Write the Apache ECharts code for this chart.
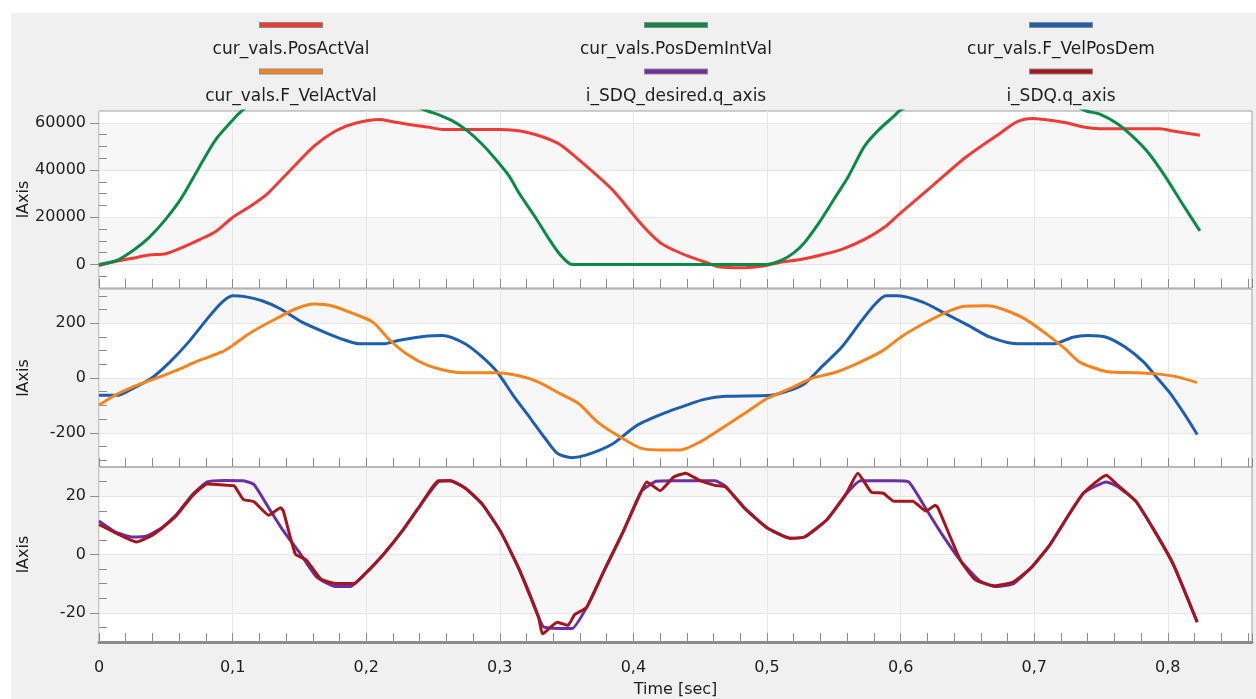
<!DOCTYPE html>
<html><head><meta charset="utf-8">
<script src="https://cdn.jsdelivr.net/npm/echarts@6/dist/echarts.min.js"></script>
<style>html,body{margin:0;padding:0;background:#fff}#c{width:1256px;height:699px}</style>
</head><body><div id="c"></div>
<script>
// ---------- DATA ----------
const seriesNames = ['cur_vals.PosActVal','cur_vals.PosDemIntVal','cur_vals.F_VelPosDem','cur_vals.F_VelActVal','i_SDQ_desired.q_axis','i_SDQ.q_axis'];

const posActT = [0,0.0135,0.025,0.0374,0.05,0.062,0.076,0.088,0.1,0.113,0.126,0.143,0.161,0.177,0.191,0.21,0.218,0.232,0.246,0.257,0.3,0.32,0.343,0.356,0.384,0.406,0.42,0.43,0.441,0.455,0.464,0.483,0.497,0.511,0.525,0.539,0.556,0.573,0.589,0.599,0.624,0.649,0.674,0.687,0.699,0.712,0.724,0.737,0.749,0.794,0.804,0.824];
const posActV = [-500,1400,2600,3970,4540,7080,10700,14200,19900,24500,29900,39800,50100,56500,59700,61400,60700,59300,58200,57200,57200,56000,51500,45900,31800,17000,9200,6100,3500,700,-1000,-1400,-700,1000,2100,3800,6400,10600,16200,21300,33400,45500,55400,60400,61800,61100,60000,58200,57500,57500,56500,54700];

const posDemT = [0,0.0135,0.026,0.0374,0.05,0.062,0.075,0.087,0.1,0.106,0.12,0.14,0.17,0.2,0.22,0.235,0.246,0.254,0.265,0.276,0.287,0.298,0.307,0.315,0.326,0.337,0.345,0.352,0.355,0.5,0.511,0.52,0.528,0.539,0.55,0.561,0.573,0.584,0.595,0.599,0.615,0.64,0.69,0.715,0.73,0.739,0.749,0.762,0.774,0.786,0.7985,0.811,0.824];
const posDemV = [0,1700,6100,11350,19200,28400,41200,52600,61100,64600,71000,75000,76000,75000,71500,67500,65000,63500,60700,56500,50800,43800,37400,29700,20500,10600,4200,400,0,0,1800,4900,9200,17700,27500,37400,50100,57200,62800,65000,70000,75000,76000,72000,67500,65000,63700,59700,54000,46900,36900,25600,14200];

const velDemT = [0,0.014,0.025,0.039,0.053,0.067,0.081,0.092,0.1,0.108,0.122,0.136,0.152,0.169,0.185,0.195,0.213,0.224,0.246,0.257,0.274,0.287,0.298,0.31,0.323,0.334,0.343,0.354,0.365,0.384,0.403,0.427,0.441,0.453,0.469,0.503,0.517,0.528,0.542,0.556,0.57,0.581,0.589,0.598,0.617,0.634,0.651,0.667,0.687,0.715,0.729,0.74,0.754,0.768,0.782,0.79,0.801,0.813,0.822];
const velDemV = [-63,-63,-39,-2,58,131,216,276,300,298,282,252,204,167,137,125,125,137,153,155,125,76,22,-63,-148,-221,-275,-291,-281,-242,-172,-121,-97,-78,-67,-63,-45,-21,46,113,204,270,300,300,276,234,191,149,125,125,149,155,149,113,58,12,-51,-136,-206];

const velActT = [0,0.012,0.025,0.042,0.058,0.075,0.092,0.1,0.114,0.13,0.147,0.161,0.174,0.191,0.205,0.218,0.232,0.246,0.263,0.274,0.296,0.315,0.329,0.345,0.359,0.373,0.39,0.406,0.423,0.435,0.45,0.466,0.483,0.5,0.517,0.533,0.55,0.567,0.587,0.6,0.617,0.634,0.648,0.665,0.676,0.693,0.709,0.723,0.734,0.754,0.776,0.79,0.807,0.822];
const velActV = [-99,-63,-33,-2,28,64,95,119,167,210,252,270,264,234,204,137,82,46,24,19,19,7,-15,-57,-93,-160,-215,-257,-263,-263,-233,-184,-130,-75,-39,-2,19,52,101,149,198,240,262,264,252,216,161,107,58,24,19,16,4,-17];

const sdqDesT = [0,0.012,0.025,0.036,0.047,0.058,0.07,0.081,0.094,0.108,0.116,0.127,0.138,0.15,0.163,0.177,0.188,0.199,0.213,0.227,0.241,0.254,0.263,0.274,0.287,0.301,0.315,0.329,0.333,0.354,0.365,0.378,0.392,0.406,0.417,0.43,0.461,0.469,0.483,0.5,0.517,0.528,0.545,0.559,0.57,0.595,0.606,0.62,0.631,0.645,0.659,0.67,0.684,0.698,0.712,0.726,0.737,0.754,0.762,0.776,0.79,0.804,0.822];
const sdqDesV = [11.5,7.8,6.0,6.4,9.2,13.7,20.6,24.9,25.4,25.3,24.0,16.0,8.1,0.7,-7.8,-11.0,-11.0,-6.7,0.1,8.1,17.2,24.9,25.3,22.8,17.2,7.5,-5.6,-21.5,-24.9,-25.4,-18.1,-5.6,7.5,21.7,25.1,25.3,25.3,23.4,16.0,9.2,5.6,6.0,12.0,20.6,25.3,25.3,24.9,14.9,6.9,-2.2,-9.0,-11.0,-10.1,-4.4,3.5,13.7,21.1,24.9,23.4,18.3,8.1,-3.3,-23.2];

const sdqT = [0,0.012,0.028,0.039,0.047,0.058,0.07,0.081,0.097,0.101,0.108,0.116,0.127,0.136,0.138,0.147,0.155,0.166,0.177,0.191,0.199,0.213,0.227,0.241,0.254,0.263,0.274,0.287,0.301,0.315,0.329,0.332,0.343,0.351,0.356,0.365,0.378,0.392,0.406,0.41,0.42,0.43,0.439,0.45,0.461,0.469,0.483,0.5,0.517,0.528,0.545,0.559,0.568,0.578,0.587,0.595,0.609,0.619,0.626,0.628,0.645,0.656,0.67,0.684,0.698,0.712,0.726,0.737,0.754,0.762,0.776,0.79,0.804,0.822];
const sdqV = [10.3,7.5,4.3,6.4,9.0,13.4,20.2,24.2,23.7,23.6,18.9,18.1,13.5,16.0,14.9,0.1,-1.8,-8.4,-9.9,-9.9,-6.7,0.1,8.1,17.2,25.3,25.3,22.8,17.2,7.5,-5.6,-21.5,-27.2,-23.2,-24.3,-20.6,-18.1,-5.6,7.5,21.7,24.9,21.9,26.5,27.9,25.3,23.7,23.1,16.0,9.2,5.6,6.0,12.0,20.6,27.9,21.4,21.0,18.3,18.3,14.9,16.9,16.0,-2.2,-8.7,-10.7,-9.5,-4.4,3.5,13.7,21.1,27.2,24.0,18.3,8.1,-3.3,-23.2];

// tick labels per panel
const panel1Labels = [0,20000,40000,60000];
const panel2Labels = [-200,0,200];
const panel3Labels = [-20,0,20];
const panel1Minor = [-5000,5000,10000,15000,25000,30000,35000,45000,50000,55000];
const panel2Minor = [-300,-250,-150,-100,-50,50,100,150,250,300];
const panel3Minor = [-25,-15,-10,-5,5,10,15,25];
const xAxisTitle = 'Time [sec]';
const yAxisTitle = 'lAxis';

// ---------- STYLE ----------
const FONT = 'DejaVu Sans';
const colors = ['#ef3b36','#0b8a48','#1d5eae','#f5841f','#6b2fa2','#a4161c'];
const W = '#ffffff', G = '#f7f7f7', T = 'rgba(0,0,0,0)', GL = '#e6e6e6';

const pair = (ts, vs) => ts.map((t, i) => [t, vs[i]]);

const grids = [
  {left:99, top:111, width:1153, height:177},
  {left:99, top:289, width:1153, height:178},
  {left:99, top:467, width:1153, height:178}
].map(g => Object.assign(g, {show:true, borderColor:'#a0a0a0', borderWidth:1, backgroundColor:'transparent'}));

const panels = [
  {min:-10000, max:65000, interval:5000, lines:[T,T,GL,T], areas:[W,W,G,G,G,G,W,W], labels:panel1Labels, minor:panel1Minor},
  {min:-325, max:325, interval:25, lines:[T,T,T,T,T,GL,T,T], areas:[W,W,W,W,W,G,G,G,G,G,G,G,G,W,W,W], labels:panel2Labels, minor:panel2Minor},
  {min:-30, max:30, interval:5, lines:[T,T,GL,T], areas:[W,W,G,G,G,G,W,W], labels:panel3Labels, minor:panel3Minor}
];

const yAxes = [];
panels.forEach((p, gi) => {
  yAxes.push({type:'value', gridIndex:gi, min:p.min, max:p.max, interval:p.interval, position:'left', z:-1,
    axisLine:{show:true, onZero:false, lineStyle:{color:'#a0a0a0'}}, axisTick:{show:false}, axisLabel:{show:false},
    splitLine:{show:true, lineStyle:{color:p.lines, width:1}},
    splitArea:{show:true, areaStyle:{color:p.areas}}});
  yAxes.push({type:'value', gridIndex:gi, min:p.min, max:p.max, position:'left',
    axisLine:{show:false, onZero:false},
    axisTick:{show:true, inside:false, length:9, customValues:p.labels, lineStyle:{color:'#8c8c8c'}},
    axisLabel:{show:true, customValues:p.labels, margin:13, color:'#1e1e1e', fontSize:16, fontFamily:FONT, formatter:v => String(v)},
    splitLine:{show:false}, splitArea:{show:false},
    name:yAxisTitle, nameLocation:'middle', nameRotate:90, nameGap:67, nameMoveOverlap:false,
    nameTextStyle:{color:'#1e1e1e', fontSize:16, fontFamily:FONT}});
  yAxes.push({type:'value', gridIndex:gi, min:p.min, max:p.max, position:'left',
    axisLine:{show:false, onZero:false},
    axisTick:{show:true, inside:true, length:8, customValues:p.minor, lineStyle:{color:'#8c8c8c'}},
    axisLabel:{show:false}, splitLine:{show:false}, splitArea:{show:false}});
});

const xFmt = v => {
  if (Math.abs(v * 10 - Math.round(v * 10)) > 1e-6) return '';
  const r = Math.round(v * 10) / 10;
  return r === 0 ? '0' : r.toFixed(1).replace('.', ',');
};
const xAxes = [0,1,2].map(gi => ({
  type:'value', gridIndex:gi, min:0, max:0.863, interval:0.02, position:'bottom',
  axisLine:{show: gi === 2, onZero:false, lineStyle:{color:'#8c8c8c', width:3}},
  axisTick:{show:true, inside:true, length:9, lineStyle:{color:'#8c8c8c'}},
  axisLabel:{show: gi === 2, formatter:xFmt, margin:18, color:'#1e1e1e', fontSize:16, fontFamily:FONT},
  splitLine:{show:true, lineStyle:{color:[GL,T,T,T,T], width:1}},
  name: gi === 2 ? xAxisTitle : '', nameLocation:'middle', nameGap:40, nameMoveOverlap:false,
  nameTextStyle:{color:'#1e1e1e', fontSize:16, fontFamily:FONT}
}));

const seriesData = [pair(posActT,posActV), pair(posDemT,posDemV), pair(velDemT,velDemV), pair(velActT,velActV), pair(sdqDesT,sdqDesV), pair(sdqT,sdqV)];
const seriesGrid = [0,0,1,1,2,2];
const series = seriesData.map((d, i) => ({
  name: seriesNames[i], type:'line', data:d,
  xAxisIndex: seriesGrid[i], yAxisIndex: seriesGrid[i] * 3,
  showSymbol:false, symbol:'none', clip:true,
  smooth: seriesGrid[i] === 2 ? 0.15 : 0.25,
  lineStyle:{color:colors[i], width:3}, itemStyle:{color:colors[i]}, z: 2 + i
}));

// legend: 3 columns, icon drawn above the name via rich text
const rich = {n:{width:240, lineHeight:40, fontSize:17, fontFamily:FONT, color:'#1e1e1e', align:'center'}};
colors.forEach((c, i) => { rich['l' + i] = {width:62, height:4, lineHeight:10, backgroundColor:c, borderColor:'#8a8a8a', borderWidth:1, align:'center'}; });
const legendCols = [[0,3],[1,4],[2,5]];
const legendCenters = [291, 676, 1061];
const legends = legendCols.map((col, k) => ({
  orient:'vertical', left: legendCenters[k] - 125, top:19, padding:0, itemGap:7,
  itemWidth:0, itemHeight:0, icon:'rect', selectedMode:false,
  itemStyle:{opacity:0},
  data: col.map(i => seriesNames[i]),
  formatter: name => '{l' + seriesNames.indexOf(name) + '|}\n{n|' + name + '}',
  textStyle:{rich}
}));

const chart = echarts.init(document.getElementById('c'), null, {renderer:'canvas'});
chart.setOption({
  animation:false,
  backgroundColor:'#ffffff',
  graphic:[{type:'rect', left:11, top:13, z:-100, silent:true, shape:{width:1245, height:686}, style:{fill:'#f0f0f0'}}],
  legend: legends,
  grid: grids,
  xAxis: xAxes,
  yAxis: yAxes,
  series: series
});
</script>
</body></html>
